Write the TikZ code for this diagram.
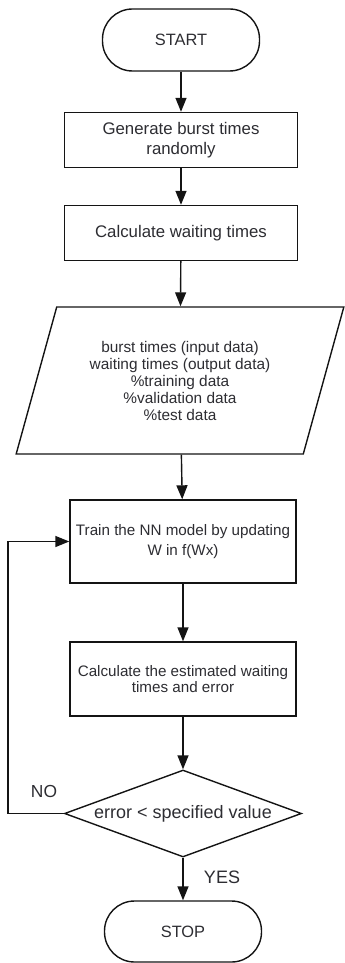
\documentclass[tikz,border=0pt]{standalone}
\usepackage{fontspec}
\setmainfont{Liberation Sans}
\usetikzlibrary{shapes.geometric, arrows.meta, positioning}
\definecolor{mydark}{RGB}{20,20,20}
\definecolor{mytext}{RGB}{45,45,50}
\tikzset{
  block/.style={rectangle, draw=mydark, fill=white, align=center,
    minimum width=116.5pt, minimum height=27.5pt, text=mytext,
    font=\fontsize{8.4}{10}\selectfont, line width=0.7pt, inner sep=2pt},
  term/.style={rectangle, draw=mydark, rounded corners=15pt, text=mytext,
    minimum width=78.5pt, minimum height=31pt,
    font=\fontsize{8.2}{10}\selectfont, line width=0.7pt},
  arrow/.style={-{Triangle[length=7pt, width=5.5pt]}, line width=0.7pt, color=mydark},
  line/.style={line width=0.7pt, color=mydark}
}

\begin{document}
\begin{tikzpicture}[x=0.5pt, y=-0.5pt]
    \useasboundingbox (0,0) rectangle (344,963);

    % Start
    \node[term] (start) at (181,40) {START};

    % Data preparation
    \node[block] (gen) at (181,140) {Generate burst times\\randomly};
    \node[block] (calc) at (181,233) {Calculate waiting times};
    \node[trapezium, trapezium left angle=71, trapezium right angle=109,
      trapezium stretches=true, draw=mydark, line width=0.7pt,
      minimum width=164pt, minimum height=73.5pt, align=center, text=mytext,
      font=\fontsize{7.7}{8.5}\selectfont] (data) at (180,380.5)
      {burst times (input data)\\waiting times (output data)\\\%training data\\\%validation data\\\%test data};

    % Training
    \node[block, minimum width=113pt, minimum height=41.5pt,
      font=\fontsize{7.6}{10}\selectfont] (train) at (183,541.5)
      {Train the NN model by updating\\W in f(Wx)};
    \node[block, minimum width=113pt, minimum height=37pt,
      font=\fontsize{7.6}{8}\selectfont] (est) at (183,679)
      {Calculate the estimated waiting\\times and error};

    % Decision
    \node[diamond, aspect=2.72, inner sep=0pt, draw=mydark, line width=0.7pt,
      minimum width=118.5pt, minimum height=43.5pt, text=mytext,
      font=\fontsize{9}{10}\selectfont] (dec) at (183,813.5) {error < specified value};

    % Stop
    \node[term, minimum height=30.5pt] (stop) at (183,931.5) {STOP};

    % Labels
    \node[text=mytext, font=\fontsize{8.7}{10}\selectfont] (no) at (44,792) {NO};
    \node[text=mytext, font=\fontsize{9}{10}\selectfont] (yes) at (222,877) {YES};

    % Arrows
    \draw[arrow] (start) -- (gen);
    \draw[arrow] (gen) -- (calc);
    \draw[arrow] (calc) -- (data);
    \draw[arrow] (data) -- (train);
    \draw[arrow] (train) -- (est);
    \draw[arrow] (est) -- (dec);
    \draw[arrow] (dec) -- (stop);

    % Loop back
    \coordinate (back) at (8,813.5);
    \draw[arrow] (dec.west) -- (back) |- (train.west);
\end{tikzpicture}
\end{document}
